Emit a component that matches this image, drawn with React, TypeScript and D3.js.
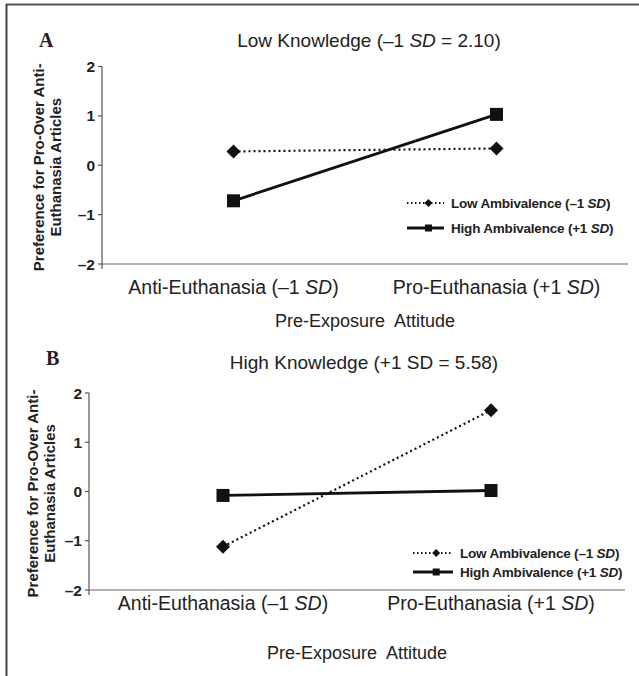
import React from "react";
import * as d3 from "d3";

const categoryPrefixes = ["Anti-Euthanasia (–1 ", "Pro-Euthanasia (+1 "];
const categoryKeys = ["anti", "pro"];
const yTicks = [-2, -1, 0, 1, 2];
const lowKnowledgeLowAmb = [0.28, 0.34];
const lowKnowledgeHighAmb = [-0.72, 1.03];
const highKnowledgeLowAmb = [-1.12, 1.65];
const highKnowledgeHighAmb = [-0.08, 0.02];

const FONT = "'Liberation Sans', Arial, sans-serif";
const TEXT = "#222";

type PanelProps = {
  letter: string;
  letterX: number;
  letterY: number;
  title: React.ReactNode;
  titleX: number;
  titleY: number;
  x0: number;
  x1: number;
  yTop: number;
  yBottom: number;
  lowVals: number[];
  highVals: number[];
  ylabX1: number;
  ylabX2: number;
  legendX: number;
  legendY1: number;
  legendY2: number;
  legendLen: number;
  catY: number;
  axisTitleY: number;
};

function Diamond({ x, y, r }: { x: number; y: number; r: number }) {
  return <path d={`M${x},${y - r}L${x + r},${y}L${x},${y + r}L${x - r},${y}Z`} fill="#111" />;
}
function Square({ x, y, s }: { x: number; y: number; s: number }) {
  return <rect x={x - s / 2} y={y - s / 2} width={s} height={s} fill="#111" />;
}

function Panel(p: PanelProps) {
  const xs = d3.scalePoint<string>().domain(categoryKeys).range([p.x0, p.x1]).padding(0.5);
  const ys = d3.scaleLinear().domain([-2, 2]).range([p.yBottom, p.yTop]);
  const line = d3
    .line<number>()
    .x((_, i) => xs(categoryKeys[i]) as number)
    .y((d) => ys(d));
  const yMid = (p.yTop + p.yBottom) / 2;
  return (
    <g>
      <text x={p.letterX} y={p.letterY} fontFamily="'Liberation Serif', 'Times New Roman', serif" fontWeight="bold" fontSize={20} fill={TEXT}>
        {p.letter}
      </text>
      <text x={p.titleX} y={p.titleY} textAnchor="middle" fontFamily={FONT} fontSize={19} fill={TEXT}>
        {p.title}
      </text>
      {/* y axis label */}
      <text transform={`translate(${p.ylabX1},${yMid + 2}) rotate(-90)`} textAnchor="middle" fontFamily={FONT} fontWeight="bold" fontSize={15} fill={TEXT}>
        Preference for Pro-Over Anti-
      </text>
      <text transform={`translate(${p.ylabX2},${yMid + 2}) rotate(-90)`} textAnchor="middle" fontFamily={FONT} fontWeight="bold" fontSize={15} fill={TEXT}>
        Euthanasia Articles
      </text>
      {/* axes */}
      <line x1={p.x0} x2={p.x0} y1={p.yTop} y2={p.yBottom + 5} stroke="#555" strokeWidth={1.2} />
      <line x1={p.x0} x2={p.x1} y1={p.yBottom} y2={p.yBottom} stroke="#666" strokeWidth={1.2} />
      {yTicks.map((t) => (
        <g key={t}>
          <line x1={p.x0 - 4} x2={p.x0} y1={ys(t)} y2={ys(t)} stroke="#555" strokeWidth={1.2} />
          <text x={p.x0 - 7} y={ys(t)} dy="0.36em" textAnchor="end" fontFamily={FONT} fontWeight="bold" fontSize={15.5} fill={TEXT}>
            {t < 0 ? `–${Math.abs(t)}` : `${t}`}
          </text>
        </g>
      ))}
      {categoryKeys.map((k, i) => (
        <text key={k} x={xs(k)} y={p.catY} textAnchor="middle" fontFamily={FONT} fontSize={19.5} fill={TEXT}>
          {categoryPrefixes[i]}
          <tspan fontStyle="italic">SD</tspan>)
        </text>
      ))}
      <text x={(p.x0 + p.x1) / 2} y={p.axisTitleY} textAnchor="middle" fontFamily={FONT} fontSize={18} fill={TEXT} style={{ whiteSpace: "pre" }}>
        {"Pre-Exposure  Attitude"}
      </text>
      {/* series */}
      <path d={line(p.lowVals) as string} fill="none" stroke="#111" strokeWidth={2.2} strokeDasharray="2,3" />
      <path d={line(p.highVals) as string} fill="none" stroke="#111" strokeWidth={2.8} />
      {p.lowVals.map((v, i) => (
        <Diamond key={i} x={xs(categoryKeys[i]) as number} y={ys(v)} r={7} />
      ))}
      {p.highVals.map((v, i) => (
        <Square key={i} x={xs(categoryKeys[i]) as number} y={ys(v)} s={13} />
      ))}
      {/* legend */}
      <line x1={p.legendX} x2={p.legendX + p.legendLen} y1={p.legendY1} y2={p.legendY1} stroke="#111" strokeWidth={1.8} strokeDasharray="1.5,2.5" />
      <Diamond x={p.legendX + p.legendLen * 0.58} y={p.legendY1} r={4} />
      <text x={p.legendX + p.legendLen + 7} y={p.legendY1} dy="0.36em" fontFamily={FONT} fontWeight="bold" fontSize={13.5} fill={TEXT} letterSpacing={-0.2}>
        Low Ambivalence (–1 <tspan fontStyle="italic">SD</tspan>)
      </text>
      <line x1={p.legendX} x2={p.legendX + p.legendLen} y1={p.legendY2} y2={p.legendY2} stroke="#111" strokeWidth={2.8} />
      <Square x={p.legendX + p.legendLen * 0.58} y={p.legendY2} s={7} />
      <text x={p.legendX + p.legendLen + 7} y={p.legendY2} dy="0.36em" fontFamily={FONT} fontWeight="bold" fontSize={13.5} fill={TEXT} letterSpacing={-0.2}>
        High Ambivalence (+1 <tspan fontStyle="italic">SD</tspan>)
      </text>
    </g>
  );
}

export default function App() {
  return (
    <svg width={639} height={676} style={{ position: "absolute", left: 0, top: 0, background: "#fff" }}>
      <rect x={0} y={0} width={639} height={676} fill="#fff" />
      <line x1={6} x2={639} y1={4.5} y2={4.5} stroke="#555" strokeWidth={2} />
      <line x1={6.5} x2={6.5} y1={4} y2={676} stroke="#444" strokeWidth={2} />
      <Panel
        letter="A"
        letterX={39}
        letterY={47}
        title={
          <>
            Low Knowledge (–1 <tspan fontStyle="italic">SD</tspan> = 2.10)
          </>
        }
        titleX={369}
        titleY={47}
        x0={102}
        x1={628}
        yTop={66.5}
        yBottom={264}
        lowVals={lowKnowledgeLowAmb}
        highVals={lowKnowledgeHighAmb}
        ylabX1={43.5}
        ylabX2={61}
        legendX={407}
        legendY1={203}
        legendY2={228}
        legendLen={37}
        catY={294}
        axisTitleY={327}
      />
      <Panel
        letter="B"
        letterX={46}
        letterY={365}
        title={<>High Knowledge (+1 SD = 5.58)</>}
        titleX={364}
        titleY={369}
        x0={89}
        x1={625}
        yTop={393}
        yBottom={590}
        lowVals={highKnowledgeLowAmb}
        highVals={highKnowledgeHighAmb}
        ylabX1={37.5}
        ylabX2={55}
        legendX={413}
        legendY1={553}
        legendY2={572}
        legendLen={40}
        catY={610}
        axisTitleY={659}
      />
    </svg>
  );
}
